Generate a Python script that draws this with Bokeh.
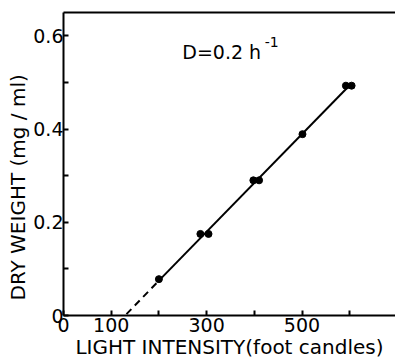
from bokeh.plotting import figure
from bokeh.models import FixedTicker, LinearAxis, Label, Range1d, Title
from bokeh.embed import file_html
from bokeh.resources import INLINE

# Data
light = [200, 287, 304, 398, 410, 501, 592, 604]
dry_weight = [0.078, 0.175, 0.175, 0.290, 0.290, 0.389, 0.493, 0.493]

fit_dash_x = [132, 203]
fit_dash_y = [0.003, 0.078]
fit_solid_x = [203, 600]
fit_solid_y = [0.078, 0.494]

x_major = [0, 100, 300, 500]
x_minor = [200, 400, 600]
y_major = [0, 0.2, 0.4, 0.6]
y_minor = [0.1, 0.3, 0.5]
y_labels = {0: "0", 0.2: "0.2", 0.4: "0.4", 0.6: "0.6"}

FONT = "DejaVu Sans"

p = figure(width=395, height=361, output_backend="svg", toolbar_location=None,
           x_range=Range1d(0, 696), y_range=Range1d(0, 0.65),
           min_border_left=63, min_border_right=0, min_border_top=12, min_border_bottom=41)
p.outline_line_color = None
p.grid.visible = False
p.background_fill_color = "white"

# fit line
p.line(fit_dash_x, fit_dash_y, line_color="black", line_width=2, line_dash="7 5")
p.line(fit_solid_x, fit_solid_y, line_color="black", line_width=2)
p.scatter(light, dry_weight, size=7, color="black")

# axes
for ax in (p.xaxis[0], p.yaxis[0]):
    ax.axis_line_width = 2
    ax.major_tick_in = 5
    ax.major_tick_out = 0
    ax.minor_tick_in = 5
    ax.minor_tick_out = 0
    ax.major_tick_line_width = 2
    ax.minor_tick_line_width = 2
    ax.major_label_text_font = FONT
    ax.major_label_text_font_size = "19px"
    ax.major_label_text_color = "black"

p.xaxis[0].ticker = FixedTicker(ticks=x_major, minor_ticks=x_minor)
p.yaxis[0].ticker = FixedTicker(ticks=y_major, minor_ticks=y_minor)
p.yaxis[0].major_label_overrides = y_labels
p.xaxis[0].major_label_standoff = 2
p.yaxis[0].major_label_standoff = 0

p.xaxis[0].axis_label = "LIGHT INTENSITY(foot candles)"
p.xaxis[0].axis_label_text_font = FONT
p.xaxis[0].axis_label_text_font_size = "20px"
p.xaxis[0].axis_label_text_font_style = "normal"
p.xaxis[0].axis_label_text_color = "black"
p.xaxis[0].axis_label_standoff = 0

top = LinearAxis(ticker=FixedTicker(ticks=[]), major_label_text_font_size="0px",
                 axis_line_width=2, major_tick_in=0, major_tick_out=0,
                 minor_tick_in=0, minor_tick_out=0)
p.add_layout(top, "above")

ytitle = Title(text="DRY WEIGHT (mg / ml)", align="left", offset=15,
               text_font=FONT, text_font_size="20px", text_font_style="normal",
               text_color="black", standoff=2)
p.add_layout(ytitle, "left")

d_lab = Label(x=249, y=0.565, text="D=0.2 h", text_align="left",
              text_baseline="alphabetic", text_font=FONT, text_font_size="19px",
              text_color="black")
sup_lab = Label(x=422, y=0.587, text="-1", text_align="left",
                text_baseline="alphabetic", text_font=FONT, text_font_size="14px",
                text_color="black")
p.add_layout(d_lab)
p.add_layout(sup_lab)

open("out.html", "w").write(file_html(p, INLINE))
